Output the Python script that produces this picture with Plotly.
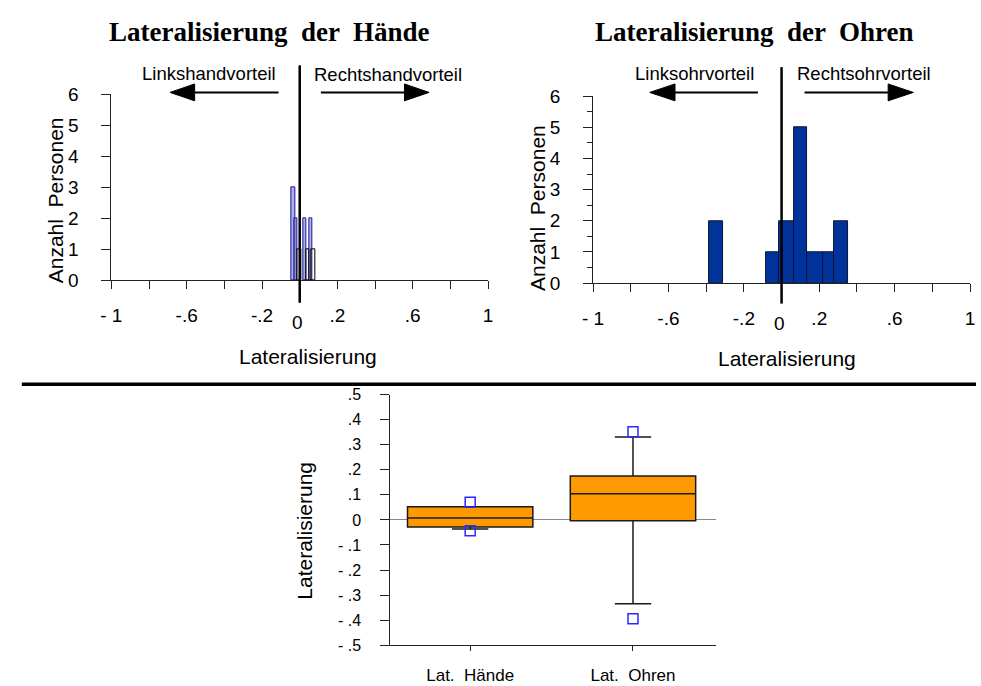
import plotly.graph_objects as go

W, H = 981, 686

# ---------------- data ----------------
# Hands histogram (two overlapping bar groups as drawn in the original)
hand_blue_x = [-0.034, -0.022, 0.026, 0.060]
hand_blue_w = [0.020, 0.015, 0.017, 0.017]
hand_blue_n = [3, 2, 2, 2]
hand_black_x = [-0.002, 0.043, 0.071]
hand_black_w = [0.026, 0.017, 0.021]
hand_black_n = [1, 1, 1]

# Ears histogram: bin edges and counts
ear_left = [-0.386, -0.085, -0.016, 0.068, 0.137, 0.221, 0.280]
ear_right = [-0.311, -0.016, 0.068, 0.137, 0.221, 0.280, 0.353]
ear_n = [2, 1, 2, 5, 1, 1, 2]

# Box plot statistics
box_cats = ["Lat.  Hände", "Lat.  Ohren"]
box_q1 = [-0.028, -0.003]
box_med = [0.008, 0.104]
box_q3 = [0.052, 0.175]
box_lo = [-0.036, -0.334]
box_hi = [0.052, 0.331]
out_cat = ["Lat.  Hände", "Lat.  Hände", "Lat.  Ohren", "Lat.  Ohren"]
out_val = [0.070, -0.043, 0.352, -0.394]

hist_xticks = [-1, -0.8, -0.6, -0.4, -0.2, 0, 0.2, 0.4, 0.6, 0.8, 1]
hist_xlabels = ["- 1", "", "-.6", "", "-.2", "", ".2", "", ".6", "", "1"]
hist_yticks = [0, 1, 2, 3, 4, 5, 6]
box_yticks = [0.5, 0.4, 0.3, 0.2, 0.1, 0, -0.1, -0.2, -0.3, -0.4, -0.5]
box_ylabels = [".5", ".4", ".3", ".2", ".1", "0", "- .1", "- .2", "- .3", "- .4", "- .5"]


def px(x):
    return x / W


def py(y):
    return 1 - y / H


SANS = "Liberation Sans, Arial, sans-serif"
SERIF = "Liberation Serif, Times New Roman, serif"

fig = go.Figure()

# left histogram
fig.add_trace(go.Bar(x=hand_blue_x, y=hand_blue_n, width=hand_blue_w,
                     marker=dict(color="rgba(110,110,200,0.55)", line=dict(color="#1a1aa0", width=1)),
                     xaxis="x", yaxis="y", showlegend=False))
fig.add_trace(go.Bar(x=hand_black_x, y=hand_black_n, width=hand_black_w,
                     marker=dict(color="rgba(255,255,255,0)", line=dict(color="black", width=1)),
                     xaxis="x", yaxis="y", showlegend=False))

# right histogram
ear_c = [(a + b) / 2 for a, b in zip(ear_left, ear_right)]
ear_w = [b - a for a, b in zip(ear_left, ear_right)]
fig.add_trace(go.Bar(x=ear_c, y=ear_n, width=ear_w,
                     marker=dict(color="#003399", line=dict(color="#0d1433", width=1)),
                     xaxis="x2", yaxis="y2", showlegend=False))

# box plot
fig.add_trace(go.Box(x=box_cats, q1=box_q1, median=box_med, q3=box_q3,
                     lowerfence=box_lo, upperfence=box_hi,
                     fillcolor="#FF9900", line=dict(color="#1a1a1a", width=1.5),
                     width=0.77, whiskerwidth=0.29, boxpoints=False,
                     xaxis="x3", yaxis="y3", showlegend=False))
fig.add_trace(go.Scatter(x=out_cat, y=out_val, mode="markers",
                         marker=dict(symbol="square-open", size=10, color="#2a2aff", line=dict(width=1.5)),
                         xaxis="x3", yaxis="y3", showlegend=False, cliponaxis=False))

tickfont = dict(family=SANS, size=19, color="black")
axline = dict(showline=True, linecolor="#222", linewidth=1, ticks="outside",
              tickcolor="#222", showgrid=False, zeroline=False)

fig.update_layout(
    width=W, height=H,
    margin=dict(l=0, r=0, t=0, b=0),
    paper_bgcolor="white", plot_bgcolor="white",
    barmode="overlay", bargap=0,
    xaxis=dict(domain=[px(102), px(485)], range=[-1, 1], anchor="y",
               tickvals=hist_xticks, ticktext=hist_xlabels, ticklen=8,
               tickfont=tickfont, ticklabelstandoff=10, **axline),
    yaxis=dict(domain=[py(279), py(87)], range=[0, 6], anchor="x",
               tickvals=hist_yticks, ticklen=9, tickfont=tickfont,
               ticklabelstandoff=19, **axline),
    xaxis2=dict(domain=[px(591.7), px(975)], range=[-1, 1], anchor="y2",
                tickvals=hist_xticks, ticktext=hist_xlabels, ticklen=8,
                tickfont=tickfont, ticklabelstandoff=10, **axline),
    yaxis2=dict(domain=[py(281.7), py(89)], range=[0, 6], anchor="x2",
                tickvals=hist_yticks, ticklen=9, tickfont=tickfont,
                ticklabelstandoff=19,
                minor=dict(dtick=0.5, ticklen=5, tickcolor="#222", ticks="outside"),
                **axline),
    xaxis3=dict(domain=[px(385.7), px(716.7)], range=[-0.49, 1.51], anchor="y3",
                type="category", ticklen=5,
                tickfont=dict(family=SANS, size=17, color="black"),
                ticklabelstandoff=9, **axline),
    yaxis3=dict(domain=[py(655.3), py(396.7)], range=[-0.5, 0.5], anchor="x3",
                tickvals=box_yticks, ticktext=box_ylabels, ticklen=9,
                tickfont=dict(family=SANS, size=16, color="black"),
                ticklabelstandoff=16,
                showline=True, linecolor="#222", linewidth=1, ticks="outside",
                tickcolor="#222", showgrid=False,
                zeroline=True, zerolinecolor="#888", zerolinewidth=1),
)

shapes = []
# vertical zero lines in histograms
shapes.append(dict(type="line", xref="x domain", yref="y domain", x0=0.5, x1=0.5,
                   y0=-0.12, y1=1.156, line=dict(color="black", width=2.5)))
shapes.append(dict(type="line", xref="x2 domain", yref="y2 domain", x0=0.5, x1=0.5,
                   y0=-0.11, y1=1.156, line=dict(color="black", width=2.5)))
# separator
shapes.append(dict(type="line", xref="paper", yref="paper", x0=px(11), x1=1,
                   y0=py(386), y1=py(386), line=dict(color="black", width=3.5)))


def arrow(tail, base, tip, y):
    shapes.append(dict(type="line", xref="paper", yref="paper", x0=px(tail), x1=px(base),
                       y0=py(y), y1=py(y), line=dict(color="black", width=2)))
    path = "M {} {} L {} {} L {} {} Z".format(px(tip), py(y), px(base), py(y - 8.7),
                                              px(base), py(y + 8.7))
    shapes.append(dict(type="path", xref="paper", yref="paper", path=path,
                       fillcolor="black", line=dict(color="black", width=1)))


arrow(272, 186.7, 161.7, 85)
arrow(315, 400, 425, 85)
arrow(759.3, 675, 649.3, 85)
arrow(806.7, 891.7, 917.3, 85)
fig.update_layout(shapes=shapes)

ann = []


def text(t, x, y, size, font=SANS, angle=0, bold=False):
    if bold:
        t = "<b>" + t + "</b>"
    ann.append(dict(text=t, x=px(x), y=py(y), xref="paper", yref="paper",
                    xanchor="center", yanchor="middle", showarrow=False,
                    textangle=angle, font=dict(family=font, size=size, color="black")))


text("Lateralisierung  der  Hände", 263, 23, 27, SERIF, bold=True)
text("Lateralisierung  der  Ohren", 756, 23, 27, SERIF, bold=True)
text("Linkshandvorteil", 201, 65, 18.5)
text("Rechtshandvorteil", 383, 67, 18.5)
text("Linksohrvorteil", 695, 65, 18.5)
text("Rechtsohrvorteil", 867.5, 65, 18.5)
text("0", 291, 322, 19)
text("0", 781, 323, 19)
text("Lateralisierung", 302, 357, 21)
text("Lateralisierung", 789, 359, 21)
text("Anzahl  Personen", 45, 196, 21, angle=-90)
text("Anzahl  Personen", 535, 204, 21, angle=-90)
text("Lateralisierung", 298, 537, 21, angle=-90)
fig.update_layout(annotations=ann)

fig.write_html("out.html")
